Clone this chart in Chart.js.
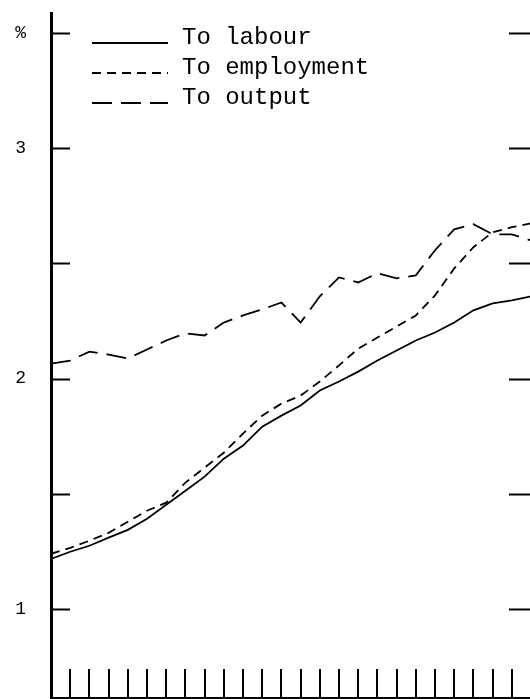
<!DOCTYPE html>
<html>
<head>
<meta charset="utf-8">
<script src="https://cdn.jsdelivr.net/npm/chart.js@4/dist/chart.umd.min.js"></script>
<style>
  html, body { margin: 0; padding: 0; background: #fff; overflow: hidden; }
  #wrap { position: relative; width: 545px; height: 699px; }
</style>
</head>
<body>
<div id="wrap"><canvas id="chart" width="545" height="699"></canvas></div>
<script>
// Period index along the horizontal axis (one tick per period)
const periods = [0,1,2,3,4,5,6,7,8,9,10,11,12,13,14,15,16,17,18,19,20,21,22,23,24,25];

// Elasticities, in per cent
const labour     = [1.217,1.248,1.274,1.309,1.343,1.391,1.452,1.513,1.574,1.652,1.709,1.791,1.839,1.883,1.948,1.987,2.030,2.078,2.122,2.165,2.200,2.243,2.296,2.326,2.339,2.357];
const employment = [1.239,1.265,1.296,1.330,1.378,1.426,1.461,1.548,1.613,1.678,1.761,1.839,1.891,1.926,1.987,2.057,2.130,2.178,2.226,2.274,2.361,2.478,2.570,2.635,2.657,2.674];
const output     = [2.065,2.078,2.117,2.104,2.087,2.126,2.165,2.196,2.187,2.243,2.274,2.300,2.330,2.243,2.357,2.439,2.417,2.457,2.435,2.448,2.557,2.648,2.670,2.626,2.626,2.600];

const seriesNames = ['To labour', 'To employment', 'To output'];

// Vertical axis ticks and their labels
const yTickValues = [1, 1.5, 2, 2.5, 3, 3.5];
const yTickLabels = ['1', '', '2', '', '3', '%'];

const INK = '#000';
const MONO = '"Liberation Mono", "DejaVu Sans Mono", monospace';

const toPoints = arr => periods.map((p, i) => ({ x: p, y: arr[i] }));

// Inward tick marks on the frame, plus the line-style key
const framePlugin = {
  id: 'frameTicks',
  afterDraw(chart) {
    const { ctx, chartArea: a, scales } = chart;
    const xs = scales.x, ys = scales.y;
    ctx.save();
    ctx.strokeStyle = INK;
    ctx.lineCap = 'butt';

    // left and right tick marks
    ctx.lineWidth = 2;
    yTickValues.forEach(v => {
      const py = Math.round(ys.getPixelForValue(v)) + 0.5;
      ctx.beginPath();
      ctx.moveTo(a.left, py); ctx.lineTo(a.left + 19, py);
      ctx.moveTo(a.right - 23, py); ctx.lineTo(a.right, py);
      ctx.stroke();
    });

    // bottom tick marks, one per period
    ctx.lineWidth = 2;
    periods.slice(1).forEach(p => {
      const px = Math.round(xs.getPixelForValue(p));
      ctx.beginPath();
      ctx.moveTo(px, a.bottom); ctx.lineTo(px, a.bottom - 29);
      ctx.stroke();
    });

    // key
    const rows = [44, 74, 104];
    ctx.font = '24px ' + MONO;
    ctx.fillStyle = INK;
    ctx.textBaseline = 'alphabetic';
    ctx.textAlign = 'left';
    chart.data.datasets.forEach((ds, i) => {
      const y = rows[i];
      ctx.lineWidth = 1.8;
      ctx.setLineDash(ds.borderDash || []);
      ctx.beginPath();
      ctx.moveTo(92, y - 1); ctx.lineTo(168, y - 1);
      ctx.stroke();
      ctx.setLineDash([]);
      ctx.fillText(ds.label, 182, y);
    });
    ctx.restore();
  }
};

const chart = new Chart(document.getElementById('chart'), {
  type: 'line',
  data: {
    datasets: [
      { label: seriesNames[0], data: toPoints(labour),     borderColor: INK, borderWidth: 1.8, borderDash: [],      pointRadius: 0, tension: 0, fill: false },
      { label: seriesNames[1], data: toPoints(employment), borderColor: INK, borderWidth: 1.8, borderDash: [9, 6],  pointRadius: 0, tension: 0, fill: false },
      { label: seriesNames[2], data: toPoints(output),     borderColor: INK, borderWidth: 1.8, borderDash: [20, 9], pointRadius: 0, tension: 0, fill: false }
    ]
  },
  options: {
    responsive: false,
    animation: false,
    layout: { padding: { top: 13, right: 13, bottom: 1, left: 0 } },
    plugins: { legend: { display: false }, tooltip: { enabled: false } },
    scales: {
      x: {
        type: 'linear',
        min: 0,
        max: 25.05,
        grid: { display: false, drawTicks: false },
        ticks: { display: false },
        border: { display: true, color: INK, width: 2 },
        afterFit: s => { s.height = 0; s.paddingLeft = 0; s.paddingRight = 0; }
      },
      y: {
        type: 'linear',
        min: 0.613,
        max: 3.587,
        afterBuildTicks: s => { s.ticks = yTickValues.map(v => ({ value: v })); },
        grid: { display: false, drawTicks: false },
        border: { display: true, color: INK, width: 3 },
        ticks: {
          autoSkip: false,
          color: INK,
          padding: 25,
          font: { family: MONO, size: 18 },
          callback: v => yTickLabels[yTickValues.indexOf(v)] ?? ''
        },
        afterFit: s => { s.width = 51; s.paddingTop = 0; s.paddingBottom = 0; }
      }
    }
  },
  plugins: [framePlugin]
});
</script>
</body>
</html>
